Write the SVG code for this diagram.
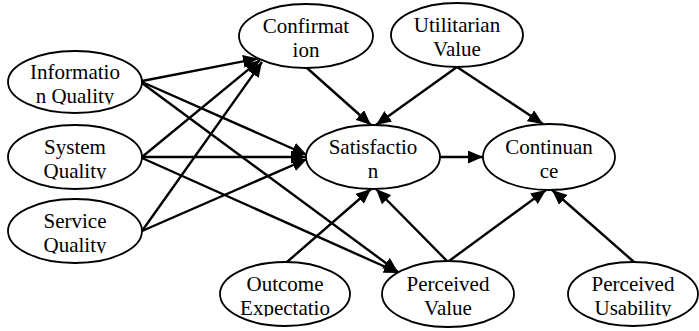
<svg xmlns="http://www.w3.org/2000/svg" width="699" height="331" viewBox="0 0 699 331">
<style>
.n ellipse{fill:#fff;stroke:#000;stroke-width:1.8}
.n text{fill:#000;stroke:none}
#connectors line{stroke:#000;stroke-width:2.4;marker-end:url(#ah)}
</style>
<defs>
<marker id="ah" markerUnits="userSpaceOnUse" markerWidth="16" markerHeight="13" refX="15" refY="6.5" orient="auto">
<path d="M0,0 L15,6.5 L0,13 z" fill="#000"/>
</marker>
<clipPath id="tc">
<rect x="8" y="51" width="134" height="53.5"/>
<rect x="8" y="125" width="134" height="54.5"/>
<rect x="8" y="199" width="134" height="54.5"/>
<rect x="220" y="262" width="130" height="54.5"/>
<rect x="568" y="262" width="130" height="54.5"/>
</clipPath>
</defs>
<rect width="699" height="331" fill="#fff"/>
<g id="connectors">
<line x1="142" y1="81" x2="258" y2="58.5"/>
<line x1="142" y1="82" x2="307" y2="155"/>
<line x1="142" y1="83" x2="398" y2="272"/>
<line x1="142" y1="157" x2="260" y2="60"/>
<line x1="142" y1="157" x2="306" y2="157"/>
<line x1="142" y1="158" x2="399" y2="273"/>
<line x1="142" y1="231" x2="262" y2="62"/>
<line x1="142" y1="231" x2="307" y2="159"/>
<line x1="307" y1="68" x2="371" y2="125"/>
<line x1="457" y1="67" x2="376" y2="125"/>
<line x1="457" y1="67" x2="543" y2="124"/>
<line x1="440" y1="157" x2="483" y2="157"/>
<line x1="287" y1="262" x2="371" y2="189"/>
<line x1="447" y1="261" x2="376" y2="189"/>
<line x1="449" y1="261" x2="546" y2="190"/>
<line x1="634" y1="262" x2="552" y2="190"/>
</g>
<g font-family="Liberation Serif, Times New Roman, serif" font-size="21" text-anchor="middle">
<g id="information-quality" class="n"><ellipse cx="75" cy="82" rx="67" ry="31"/><text x="75" y="79">Informatio</text><text x="75" y="103" clip-path="url(#tc)">n Quality</text></g>
<g id="system-quality" class="n"><ellipse cx="75" cy="157" rx="67" ry="32"/><text x="75" y="154">System</text><text x="75" y="178" clip-path="url(#tc)">Quality</text></g>
<g id="service-quality" class="n"><ellipse cx="75" cy="231" rx="67" ry="32"/><text x="75" y="228">Service</text><text x="75" y="252" clip-path="url(#tc)">Quality</text></g>
<g id="confirmation" class="n"><ellipse cx="306" cy="36" rx="67" ry="32"/><text x="306" y="33">Confirmat</text><text x="306" y="57">ion</text></g>
<g id="utilitarian-value" class="n"><ellipse cx="457" cy="35" rx="66" ry="32"/><text x="457" y="32">Utilitarian</text><text x="457" y="56">Value</text></g>
<g id="satisfaction" class="n"><ellipse cx="373" cy="157" rx="67" ry="32"/><text x="373" y="154">Satisfactio</text><text x="373" y="178">n</text></g>
<g id="continuance" class="n"><ellipse cx="549" cy="157" rx="66" ry="33"/><text x="549" y="154">Continuan</text><text x="549" y="178">ce</text></g>
<g id="outcome-expectation" class="n"><ellipse cx="285" cy="294" rx="65" ry="32"/><text x="285" y="291">Outcome</text><text x="285" y="315" clip-path="url(#tc)">Expectatio</text></g>
<g id="perceived-value" class="n"><ellipse cx="448" cy="294" rx="66" ry="33"/><text x="448" y="291">Perceived</text><text x="448" y="315">Value</text></g>
<g id="perceived-usability" class="n"><ellipse cx="633" cy="294" rx="65" ry="32"/><text x="633" y="291">Perceived</text><text x="633" y="315" clip-path="url(#tc)">Usability</text></g>
</g>
</svg>
